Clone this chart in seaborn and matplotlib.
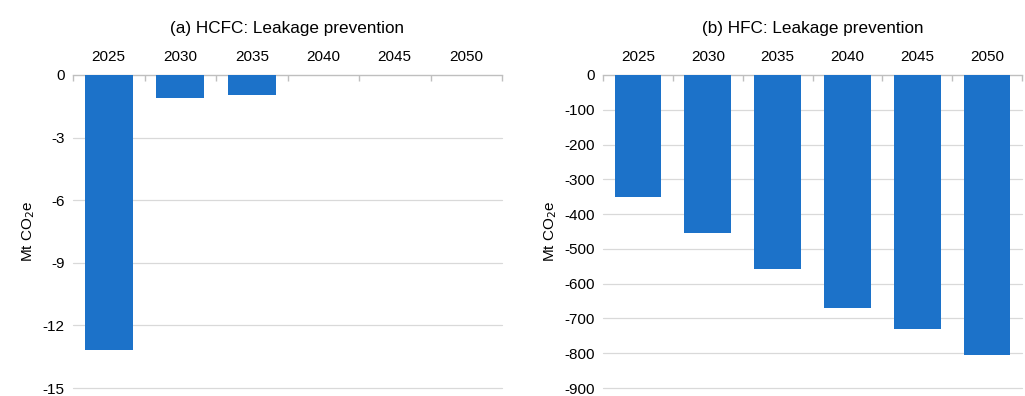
import matplotlib
matplotlib.use("Agg")
import matplotlib.pyplot as plt
import seaborn as sns
import numpy as np
import pandas as pd

years = ["2025", "2030", "2035", "2040", "2045", "2050"]
hcfc_values = [-13.2, -1.1, -0.95, 0.0, 0.0, 0.0]
hfc_values = [-350, -455, -557, -670, -730, -805]
hcfc_ticks = [0, -3, -6, -9, -12, -15]
hfc_ticks = [0, -100, -200, -300, -400, -500, -600, -700, -800, -900]

sns.set_theme(style="white")
plt.rcParams["font.family"] = ["Liberation Sans", "DejaVu Sans"]
plt.rcParams["text.color"] = "#000000"
plt.rcParams["axes.labelcolor"] = "#000000"
plt.rcParams["xtick.color"] = "#000000"
plt.rcParams["ytick.color"] = "#000000"

fig = plt.figure(figsize=(10.25, 3.96), dpi=100)
bar_color = "#1c72c9"

def draw(ax, values, ticks, title, ylim):
    df = pd.DataFrame({"year": years, "value": values})
    sns.barplot(data=df, x="year", y="value", color=bar_color, width=0.67,
                saturation=1, ax=ax, zorder=3, linewidth=0)
    ax.set_ylim(*ylim)
    ax.set_xlim(-0.5, len(years) - 0.5)
    ax.set_yticks(ticks)
    ax.set_yticklabels([str(t) for t in ticks], fontsize=11)
    ax.xaxis.tick_top()
    ax.set_xticks(range(len(years)))
    ax.set_xticklabels(years, fontsize=11)
    ax.tick_params(axis="x", length=0, pad=8, colors="#000000")
    ax.tick_params(axis="y", length=0, pad=6, colors="#000000")
    ax.set_xticks(np.arange(-0.5, len(years), 1), minor=True)
    ax.tick_params(axis="x", which="minor", length=4, direction="in", color="#bfbfbf", top=True, bottom=False)
    ax.set_xlabel("")
    ax.set_ylabel("Mt CO$_2$e", fontsize=11, color="#000000")
    for t in ticks[1:]:
        ax.axhline(t, color="#d9d9d9", lw=0.9, zorder=1, clip_on=False)
    for s in ["left", "right", "bottom"]:
        ax.spines[s].set_visible(False)
    ax.spines["top"].set_color("#bfbfbf")
    ax.spines["top"].set_linewidth(1)
    ax.set_title(title, fontsize=12.3, pad=30, color="#000000")

ax1 = fig.add_axes([73/1025, 8/396, (502-73)/1025, (388-75)/396])
draw(ax1, hcfc_values, hcfc_ticks, "(a) HCFC: Leakage prevention", (-15, 0))
ax2 = fig.add_axes([603/1025, 8/396, (1022-603)/1025, (388-75)/396])
draw(ax2, hfc_values, hfc_ticks, "(b) HFC: Leakage prevention", (-900, 0))

fig.savefig("out.png", dpi=100)
